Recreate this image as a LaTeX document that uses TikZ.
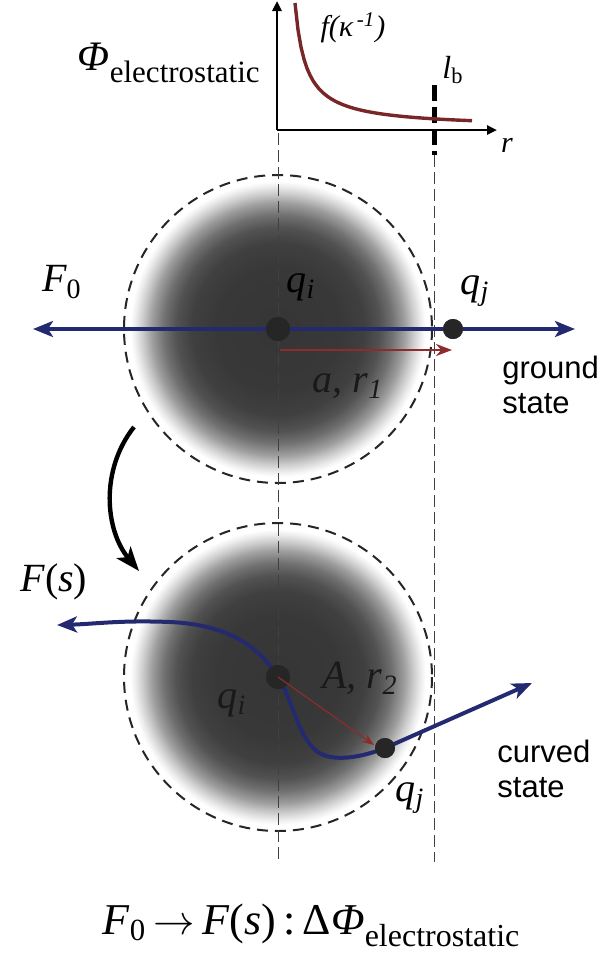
\documentclass[tikz,border=0pt]{standalone}
\usepackage{fontspec}
\setmainfont{Liberation Serif}
\newfontfamily\labelsans{Liberation Sans}
\usetikzlibrary{arrows.meta, positioning}

\definecolor{chainblue}{RGB}{36,42,112}
\definecolor{bondred}{RGB}{140,44,44}
\definecolor{curvered}{RGB}{120,38,40}

\pgfdeclareradialshading{cloud}{\pgfpoint{0bp}{0bp}}{color(0bp)=(black!79); color(10bp)=(black!78); color(14bp)=(black!75); color(16.5bp)=(black!68); color(18.5bp)=(black!56); color(20.5bp)=(black!38); color(22bp)=(black!20); color(23.2bp)=(black!7); color(24bp)=(white); color(50bp)=(white)}

\begin{document}
\begin{tikzpicture}[
    x=0.5pt, y=-0.5pt,
    chain/.style={draw=chainblue, line width=2pt},
    tip/.style={-{Stealth[length=10pt, width=8pt, inset=2.5pt]}},
    bond/.style={draw=bondred, line width=1.3pt, -{Stealth[length=8pt, width=6pt]}},
    guide/.style={draw=black!75, line width=0.5pt, dash pattern=on 6pt off 2.5pt},
    shell/.style={draw=black!85, line width=1pt, dash pattern=on 5.5pt off 3.5pt},
    dot/.style={circle, fill=black!85, inner sep=0pt, minimum size=12pt},
    lbl/.style={inner sep=0pt, font=\fontsize{20}{22}\selectfont\itshape},
    note/.style={inner sep=0pt, align=left, font=\labelsans\fontsize{15.5}{17.5}\selectfont},
]
\useasboundingbox (0,0) rectangle (600,955);

% charge clouds
\coordinate (top) at (278,329);
\coordinate (bot) at (278,677);
\shade[shading=cloud] (top) circle [radius=154];
\shade[shading=cloud] (bot) circle [radius=154];
\draw[shell] (top) circle [radius=154];
\draw[shell] (bot) circle [radius=154];

% guide lines
\draw[guide] (278,133) -- (278,862);
\draw[guide] (434,155) -- (434,862);
\draw[line width=2.5pt, dash pattern=on 8pt off 3pt] (434,85) -- (434,155);

% potential plot
\coordinate (origin) at (277,130);
\coordinate (yend) at (277,1);
\coordinate (xend) at (497,130);
\draw[line width=1.2pt, -{Triangle[length=5pt, width=4.5pt]}] (origin) -- (yend);
\draw[line width=1.2pt, -{Triangle[length=5pt, width=4.5pt]}] (origin) -- (xend);
\draw[curvered, line width=1.7pt] plot[domain=295:472, samples=60] (\x, {128-1375/(\x-284)});
\node[lbl, font=\fontsize{15}{16}\selectfont\itshape] (kappa) at (353,28) {f(κ\textsuperscript{\,-1})};
\node[lbl, font=\fontsize{16}{18}\selectfont\itshape] (lb) at (453,70) {l\textsubscript{\upshape b}};
\node[lbl, font=\fontsize{15}{16}\selectfont\itshape] (raxis) at (507,145) {r};
\node[inner sep=0pt, anchor=base east] (phi) at (260,70)
    {{\fontsize{21}{22}\selectfont\itshape Φ}\raisebox{-6pt}{\fontsize{15.5}{16}\selectfont electrostatic}};

% ground state
\node[dot] (qi1) at (top) {};
\node[dot, minimum size=10pt] (qj1) at (453,329) {};
\coordinate (g0left) at (33,329);
\coordinate (g0right) at (575,329);
\draw[chain, tip] (qi1.center) -- (g0left);
\draw[chain, tip] (qi1.center) -- (g0right);
\node[dot] at (qi1) {};
\node[dot, minimum size=10pt] at (qj1) {};
\coordinate (r1start) at (280,350);
\coordinate (r1end) at (452,350);
\draw[bond] (r1start) -- (r1end);
\node[lbl] (F0) at (62,282) {F\textsubscript{\upshape 0}};
\node[lbl] (qi1lbl) at (301,287) {q\textsubscript{i}};
\node[lbl] (qj1lbl) at (475,291) {q\textsubscript{j}};
\node[lbl, text=black!90] (ar1) at (348,386) {a, r\textsubscript{1}};
\node[note, anchor=west] (ground) at (502,385) {ground\\state};

% transition
\coordinate (bendS) at (134,427);
\coordinate (bendE) at (139,571);
\draw[line width=2.2pt, -{Stealth[length=12pt, width=9pt, inset=3pt]}]
    (bendS) .. controls (100,470) and (105,530) .. (bendE);

% curved state
\node[dot] (qi2) at (bot) {};
\node[dot, minimum size=10pt] (qj2) at (385,748) {};
\coordinate (fsleft) at (57,625);
\coordinate (fsright) at (532,683);
\draw[chain, tip] (qi2.center) .. controls (262,652) and (235,625) .. (170,622)
    .. controls (120,620) and (95,624) .. (fsleft);
\draw[chain, tip] (qi2.center) .. controls (292,698) and (298,738) .. (318,752)
    .. controls (332,762) and (360,758) .. (qj2.center) -- (fsright);
\node[dot] at (qi2) {};
\node[dot, minimum size=10pt] at (qj2) {};
\coordinate (r2end) at (374,745);
\draw[bond, line width=0.6pt, -{Stealth[length=6pt, width=4.5pt]}] (qi2.center) -- (r2end);
\node[lbl] (Fs) at (54,582) {F\upshape(\itshape s\upshape)};
\node[lbl, text=black!90] (Ar2) at (360,678) {A, r\textsubscript{2}};
\node[lbl, text=black!90] (qi2lbl) at (232,703) {q\textsubscript{i}};
\node[lbl] (qj2lbl) at (410,798) {q\textsubscript{j}};
\node[note, anchor=west] (curved) at (497,769) {curved\\state};

% change of potential
\node[inner sep=0pt, font=\fontsize{22}{24}\selectfont] (delta) at (311,925)
    {\textit{F}\textsubscript{0}\,$\rightarrow$\,\textit{F}(\textit{s})\,:\,Δ\textit{Φ}\raisebox{-6pt}{\fontsize{16}{17}\selectfont electrostatic}};
\end{tikzpicture}
\end{document}
